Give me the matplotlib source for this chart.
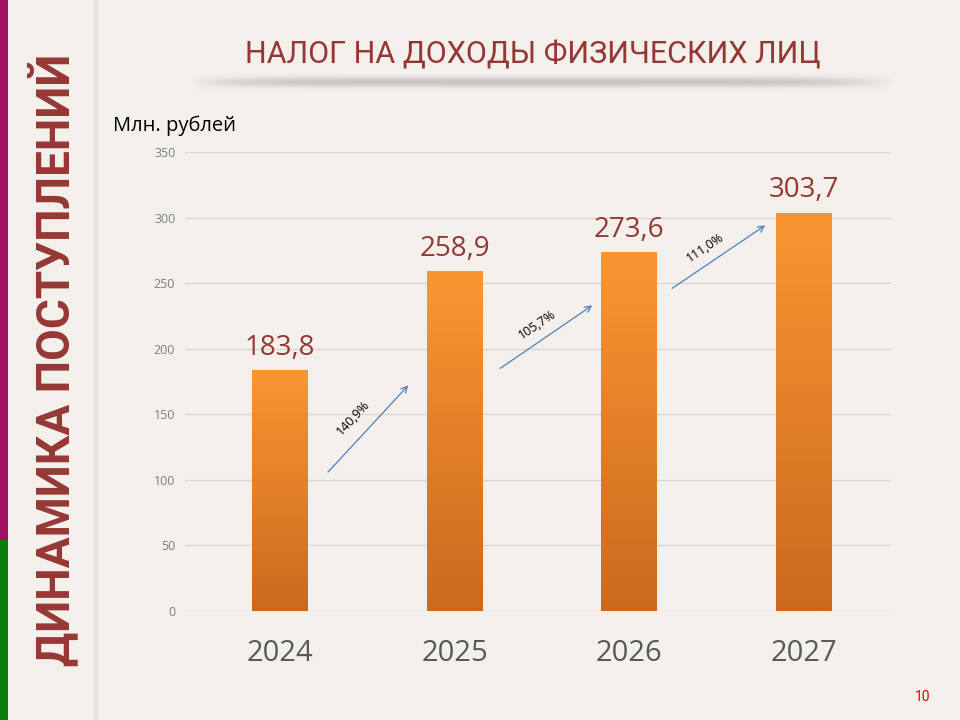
import numpy as np
from matplotlib import pyplot as plt
from matplotlib.colors import LinearSegmentedColormap

years = ['2024', '2025', '2026', '2027']
values = [183.8, 258.9, 273.6, 303.7]
value_labels = ['183,8', '258,9', '273,6', '303,7']
growth_labels = ['140,9%', '105,7%', '111,0%']
y_ticks = [0, 50, 100, 150, 200, 250, 300, 350]

title = 'НАЛОГ НА ДОХОДЫ ФИЗИЧЕСКИХ ЛИЦ'
side_title = 'ДИНАМИКА ПОСТУПЛЕНИЙ'
unit_label = 'Млн. рублей'
page_num = '10'

bg = '#F3EFEA'
dark_red = '#953735'
narrow = ['Roboto', 'DejaVu Sans']
body = ['Open Sans', 'DejaVu Sans']

fig = plt.figure(figsize=(9.6, 7.2), dpi=100, facecolor=bg)

# decoration layer over whole slide
deco = fig.add_axes([0, 0, 1, 1], zorder=0)
deco.axis('off')
deco.fill_between([0, 8], 0, 540, color='#A0105F', lw=0)
deco.fill_between([0, 8], 540, 720, color='#0B7D0B', lw=0)

# vertical soft shadow
for i, a in enumerate([0.03, 0.06, 0.09, 0.06, 0.03]):
    deco.plot([94 + i, 94 + i], [0, 720], color='#808080', alpha=a, lw=1.2)

# shadow under title
xs = np.linspace(-1, 1, 400)
ys = np.linspace(0, 1, 30)
X, Y = np.meshgrid(xs, ys)
alpha = (1 - X ** 6) * np.exp(-((Y - 0.4) / 0.25) ** 2) * 0.35
rgba = np.zeros(X.shape + (4,))
rgba[..., :3] = 0.45
rgba[..., 3] = alpha
deco.imshow(rgba, extent=[190, 895, 94, 74], aspect='auto', interpolation='bilinear')
deco.set_xlim(0, 960)
deco.set_ylim(720, 0)

fig.text(0.055, 0.5, side_title, rotation=90, ha='center', va='center',
         color=dark_red, fontsize=33, fontweight='bold', family=narrow)
fig.text(0.555, 0.923, title, ha='center', va='center', color=dark_red,
         fontsize=22, family=narrow)
fig.text(0.118, 0.826, unit_label, ha='left', va='center', color='black',
         fontsize=14.5, family=body)
fig.text(0.961, 0.032, page_num, ha='center', va='center', color='#E00000',
         fontsize=10, family=narrow)

ax = fig.add_axes([0.1927, 0.1514, 0.7354, 0.6375], zorder=2)
ax.patch.set_alpha(0)
x = np.arange(len(years))
bars = ax.bar(x, values, width=0.32, color='none', lw=0, zorder=3)

cmap = LinearSegmentedColormap.from_list('bar', ['#CC691E', '#FA9632'])
grad = np.linspace(0, 1, 256).reshape(-1, 1)
for b in bars:
    im = ax.imshow(grad, extent=[b.get_x(), b.get_x() + b.get_width(), 0, b.get_height()],
                   origin='lower', aspect='auto', cmap=cmap, zorder=3)
    im.set_clip_path(b)

for xi, v, lab in zip(x, values, value_labels):
    ax.annotate(lab, (xi, v), xytext=(0, 6), textcoords='offset points',
                ha='center', va='bottom', color=dark_red, fontsize=20, family=body)

# growth arrows between bars
arrow_start = [(0.275, 106), (1.261, 185), (2.246, 246)]
arrow_end = [(0.734, 172), (1.788, 233), (2.779, 294)]
label_pos = [(0.418, 147, 47), (1.473, 218, 34), (2.436, 277, 34)]
for s, e, (lx, ly, rot), lab in zip(arrow_start, arrow_end, label_pos, growth_labels):
    ax.annotate('', xy=e, xytext=s,
                arrowprops=dict(arrowstyle='->', color='#4F81BD', lw=0.9,
                                shrinkA=0, shrinkB=0, mutation_scale=11))
    ax.text(lx, ly, lab, rotation=rot, ha='center', va='center', fontsize=9,
            color='black', family=body)

ax.set_xlim(-0.545, 3.5)
ax.set_ylim(0, 350)
ax.set_yticks(y_ticks)
ax.set_xticks(x)
ax.set_xticklabels(years, fontsize=21, color='#595959', family=body)
ax.tick_params(axis='y', labelsize=9, labelcolor='#7F7F7F', length=0, pad=7)
ax.tick_params(axis='x', length=0, pad=20)
for lab in ax.get_yticklabels():
    lab.set_family(body)
ax.grid(axis='y', color='#D9D5D0', lw=0.9)
ax.set_axisbelow(True)
for sp in ax.spines.values():
    sp.set_visible(False)

fig.savefig('out.png', dpi=100, facecolor=bg)
